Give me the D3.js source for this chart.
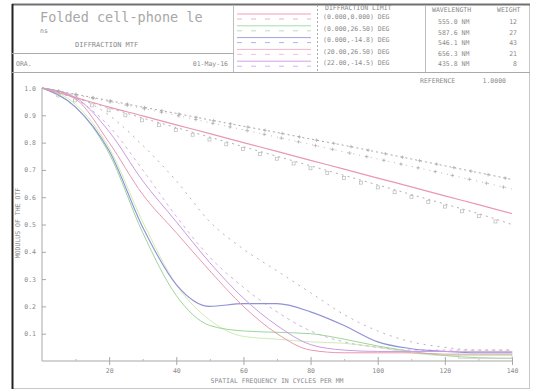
<!DOCTYPE html>
<html><head><meta charset="utf-8">
<script src="https://cdn.jsdelivr.net/npm/d3@7"></script>
<style>html,body{margin:0;padding:0;background:#fff}svg{display:block}text{font-family:"DejaVu Sans Mono",monospace;fill:#8a8a8a}</style>
</head><body><svg id="c" width="542" height="390"></svg>
<script>
// ---- data ----
const freqs = [0,10,20,30,40,50,60,70,80,90,100,110,120,130,140];
const xTicks = [20,40,60,80,100,120,140];
const yTicks = [0.1,0.2,0.3,0.4,0.5,0.6,0.7,0.8,0.9,1.0];
const diffLimitT = [1.0,0.977,0.954,0.93,0.907,0.883,0.86,0.837,0.813,0.79,0.765,0.74,0.715,0.69,0.665];
const diffLimitS = [1.0,0.975,0.95,0.925,0.90,0.873,0.847,0.82,0.793,0.766,0.74,0.713,0.686,0.658,0.63];
const axisT = [1.0,0.965,0.93,0.898,0.865,0.833,0.80,0.768,0.735,0.703,0.67,0.638,0.605,0.573,0.54];
const axisS = [1.0,0.963,0.927,0.89,0.855,0.82,0.785,0.75,0.715,0.68,0.645,0.61,0.575,0.54,0.50];
const fieldBlue = [1.0,0.93,0.77,0.49,0.28,0.20,0.21,0.21,0.18,0.13,0.07,0.045,0.035,0.03,0.03];
const fieldGreen = [1.0,0.93,0.76,0.47,0.24,0.13,0.11,0.105,0.10,0.08,0.055,0.035,0.02,0.012,0.01];
const fieldGreenS = [1.0,0.94,0.78,0.51,0.28,0.15,0.09,0.08,0.07,0.065,0.05,0.03,0.02,0.02,0.02];
const fieldPink = [1.0,0.96,0.80,0.61,0.47,0.33,0.20,0.10,0.04,0.03,0.03,0.03,0.025,0.025,0.025];
const fieldPurple = [1.0,0.965,0.84,0.66,0.51,0.36,0.23,0.13,0.06,0.04,0.035,0.035,0.035,0.035,0.035];
const fieldPinkS = [1.0,0.97,0.90,0.79,0.66,0.51,0.41,0.33,0.25,0.17,0.11,0.07,0.05,0.04,0.04];
const fieldPurpleS = [1.0,0.96,0.86,0.70,0.53,0.38,0.27,0.18,0.11,0.07,0.05,0.04,0.04,0.04,0.04];
const fieldLabels = ["(0.000,0.000) DEG","(0.000,26.50) DEG","(0.000,-14.8) DEG","(20.00,26.50) DEG","(22.00,-14.5) DEG"];
const wavelengths = ["555.0 NM","587.6 NM","546.1 NM","656.3 NM","435.8 NM"];
const weights = ["12","27","43","21","8"];
const legendColors = ["#eba0b8","#a8dca8","#a0a0e0","#f4b4c8","#d0a0e8"];

const svg = d3.select("#c");
// ---- frame ----
svg.append("rect").attr("x",12.5).attr("y",4.5).attr("width",517).attr("height",384).attr("fill","#fff").attr("stroke","#c8c8c8");
svg.append("line").attr("x1",12).attr("x2",530).attr("y1",4.5).attr("y2",4.5).attr("stroke","#707070").attr("stroke-width",2);
svg.append("line").attr("x1",12.5).attr("x2",12.5).attr("y1",4).attr("y2",389).attr("stroke","#222").attr("stroke-width",2);
const hl=(x1,x2,y,c)=>svg.append("line").attr("x1",x1).attr("x2",x2).attr("y1",y).attr("y2",y).attr("stroke",c||"#bdbdbd");
const vl=(x,y1,y2,c,d)=>svg.append("line").attr("x1",x).attr("x2",x).attr("y1",y1).attr("y2",y2).attr("stroke",c||"#bdbdbd").attr("stroke-dasharray",d||null);
hl(12,530,72.5,"#aaa"); hl(12,233,53.5,"#aaa");
vl(233.5,5,72); vl(317.5,5,72,"#aaa","2,2"); vl(425.5,5,72);

// ---- header text ----
const T=(x,y,s,sz,anchor,col)=>svg.append("text").attr("x",x).attr("y",y).attr("font-size",sz).attr("text-anchor",anchor||"start").style("fill",col||"#8a8a8a").text(s);
T(40,22,"Folded cell-phone le",13.5,"start","#a8a8a8");
T(40,33,"ns",6.5);
T(75,47,"DIFFRACTION MTF",7);
T(16,66,"ORA.",6.5);
T(228,66,"01-May-16",6.5,"end");
T(325,10,"DIFFRACTION LIMIT",6.5);
fieldLabels.forEach((s,i)=>T(323,19+i*11.5,s,6.5));
T(432,12,"WAVELENGTH",6.5); T(497,12,"WEIGHT",6.5);
wavelengths.forEach((s,i)=>T(438,24+i*10.6,s,6.5));
weights.forEach((s,i)=>T(517,24+i*10.6,s,6.5,"end"));
T(420,83,"REFERENCE",6.5); T(506,83,"1.0000",6.5,"end");
legendColors.forEach((c,i)=>{
  const y=14+i*11.8;
  svg.append("line").attr("x1",237).attr("x2",311).attr("y1",y).attr("y2",y).attr("stroke",c).attr("stroke-width",1);
  svg.append("line").attr("x1",237).attr("x2",311).attr("y1",y+5).attr("y2",y+5).attr("stroke",c).attr("stroke-width",1).attr("stroke-dasharray","5,9").attr("opacity",0.8);
});

// ---- scales ----
const x=d3.scaleLinear().domain([0,140]).range([42,512]);
const y=d3.scaleLinear().domain([0,1]).range([361,88]);

// axes
const gx=svg.append("g").attr("transform","translate(0,361)").call(d3.axisBottom(x).tickValues(xTicks).tickSize(4).tickPadding(3).tickFormat(d3.format("d")));
gx.selectAll(".tick line").attr("y1",-4).attr("stroke","#a8a8a8");
gx.select(".domain").attr("stroke","#a8a8a8").attr("d","M42,0H512");
const gxm=svg.append("g").attr("transform","translate(0,361)").call(d3.axisBottom(x).tickValues([10,30,50,70,90,110,130]).tickSize(0).tickFormat(""));
gxm.selectAll(".tick line").attr("y1",-2).attr("y2",0).attr("stroke","#bbb"); gxm.select(".domain").remove();
const gy=svg.append("g").attr("transform","translate(42,0)").call(d3.axisLeft(y).tickValues(yTicks).tickSize(-4).tickPadding(6).tickFormat(d3.format(".1f")));
gy.select(".domain").attr("stroke","#a8a8a8").attr("d","M0,88V361");
gy.selectAll(".tick line").attr("stroke","#a8a8a8");
svg.selectAll(".tick text").style("font-family","DejaVu Sans Mono,monospace").style("font-size","6.5px").style("fill","#8a8a8a");
T(277,383,"SPATIAL FREQUENCY IN CYCLES PER MM",6.5,"middle");
svg.append("text").attr("transform","translate(20,223) rotate(-90)").attr("text-anchor","middle").attr("font-size",6.5).style("fill","#8a8a8a").text("MODULUS OF THE OTF");

// ---- curves ----
const line=d3.line().x((d,i)=>x(freqs[i])).y(d=>y(d)).curve(d3.curveMonotoneX);
const series=[
  {v:fieldGreenS,c:"#d0ecb4",w:1,d:null},
  {v:fieldPurpleS,c:"#d4b4e0",w:1,d:"3,4"},
  {v:fieldPinkS,c:"#c0b0b8",w:1,d:"2,5"},
  {v:fieldGreen,c:"#9cd69c",w:1,d:null},
  {v:fieldBlue,c:"#9090d8",w:1.1,d:null},
  {v:fieldPurple,c:"#cc9ae4",w:1,d:null},
  {v:fieldPink,c:"#e898b4",w:1,d:null},
  {v:axisS,c:"#b0b0b0",w:1,d:"2,4",m:"sq"},
  {v:axisT,c:"#e898b4",w:1.2,d:null},
  {v:diffLimitS,c:"#b8b8b8",w:1,d:"1,5",m:"plus"},
  {v:diffLimitT,c:"#a8a8a8",w:1,d:"2,3",m:"plus"}
];
series.forEach(s=>{
  const p=svg.append("path").datum(s.v).attr("d",line).attr("fill","none").attr("stroke",s.c).attr("stroke-width",s.w).attr("stroke-dasharray",s.d);
  if(s.m){
    const node=p.node(),L=node.getTotalLength();
    const g=svg.append("g");
    for(let l=17;l<L;l+=17.5){
      const pt=node.getPointAtLength(l);
      if(s.m==="plus"){
        g.append("path").attr("d",`M${pt.x-1.8},${pt.y}h3.6M${pt.x},${pt.y-1.8}v3.6`).attr("stroke","#a8a8a8").attr("stroke-width",0.7);
      } else {
        g.append("rect").attr("x",pt.x-1.5).attr("y",pt.y+1).attr("width",3).attr("height",3).attr("fill","none").attr("stroke","#b8b8b8").attr("stroke-width",0.7);
      }
    }
  }
});
svg.append("rect").attr("x",x(124)).attr("y",y(0.035)).attr("width",x(140)-x(124)).attr("height",y(0.01)-y(0.035)).attr("fill","none").attr("stroke","#c8c8c8").attr("stroke-width",0.7);
</script></body></html>
